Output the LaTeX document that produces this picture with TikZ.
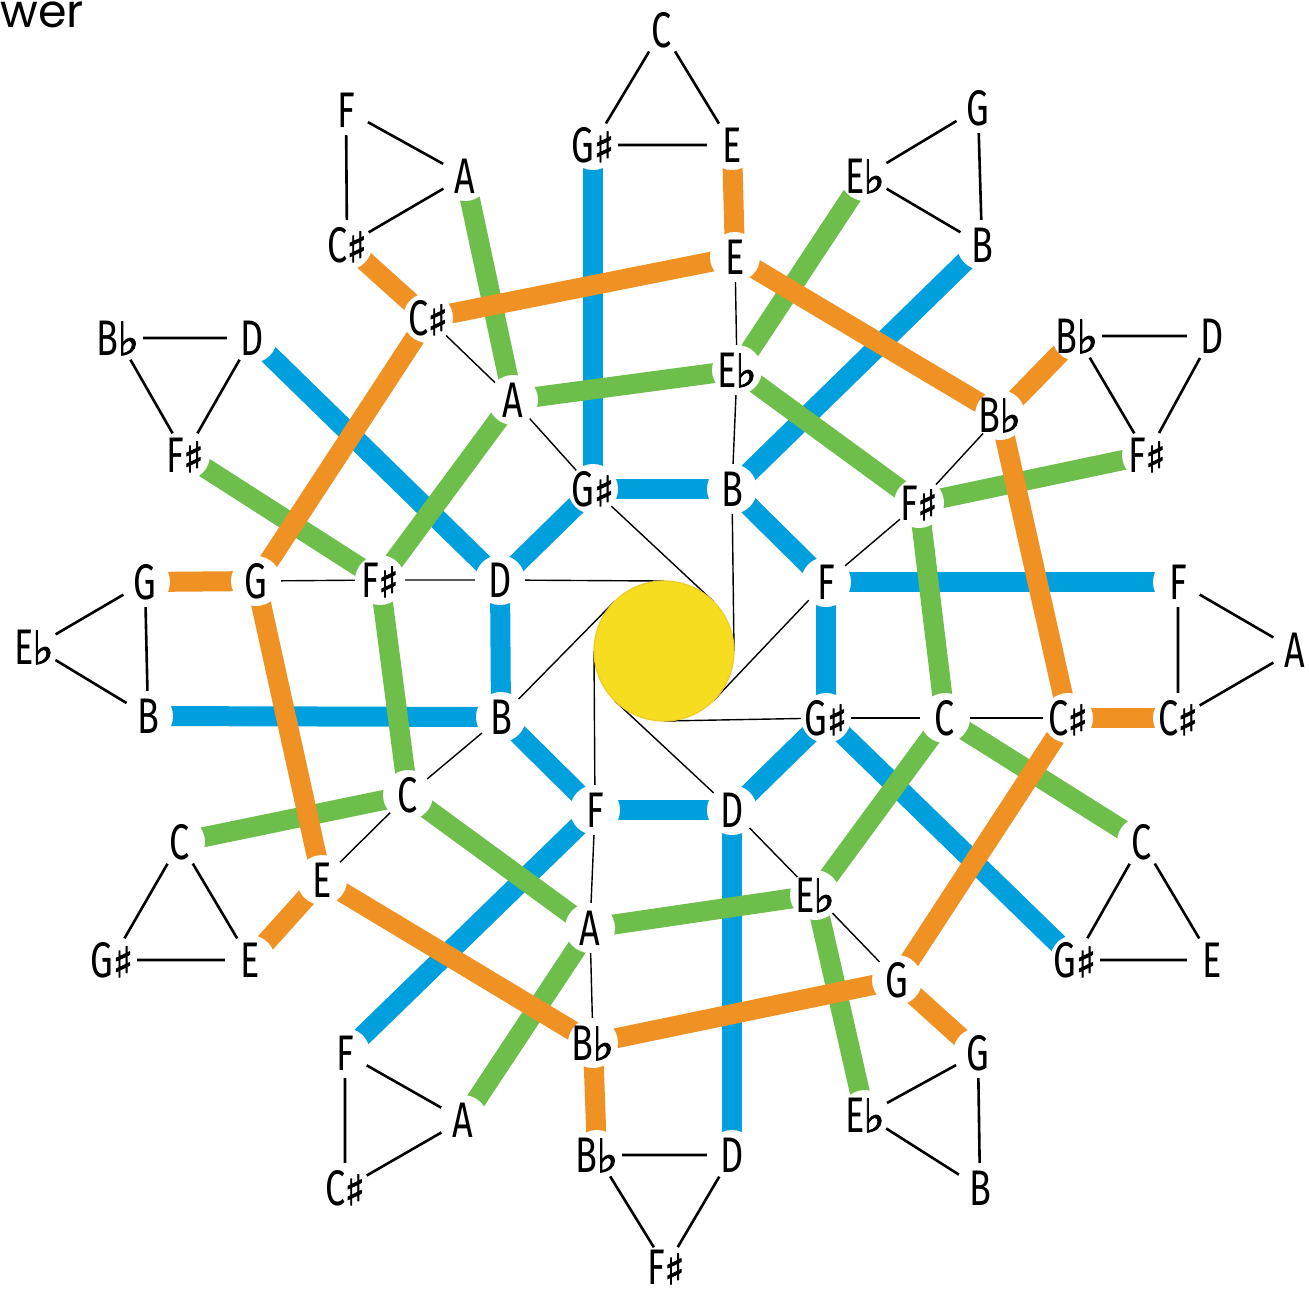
\documentclass[tikz,border=0pt]{standalone}
\usepackage{fontspec}
\setmainfont[FakeStretch=0.72]{Fira Sans}
\newfontfamily\symf[FakeBold=2]{DejaVu Sans}
\newfontfamily\titlef{Poppins}
\definecolor{cblue}{HTML}{00A0DF}
\definecolor{cgreen}{HTML}{6DBE4B}
\definecolor{corange}{HTML}{F09123}
\definecolor{cyel}{HTML}{F6DD1F}
\definecolor{cyeld}{HTML}{EECB26}
\newcommand{\labfont}{\fontsize{25}{25}\selectfont}
\newcommand{\shp}{\kern-0.4pt\smash{\symf\fontsize{21}{21}\selectfont ♯}}
\newcommand{\flt}{\kern-0.6pt\smash{\symf\fontsize{23}{23}\selectfont ♭}}
\pgfdeclarelayer{thinl}
\pgfdeclarelayer{thickl}
\pgfsetlayers{thinl,thickl,main}
\tikzset{
  lab/.style={circle, fill=white, minimum size=25pt, inner sep=-4pt, font=\labfont, text=black},
  bl/.style={line width=10pt, draw=cblue},
  gr/.style={line width=10pt, draw=cgreen},
  og/.style={line width=10pt, draw=corange},
  thinln/.style={line width=0.7pt, draw=black},
  triln/.style={line width=1.3pt, draw=black},
}
\begin{document}
\begin{tikzpicture}[x=0.5pt,y=-0.5pt]
\useasboundingbox (0,0) rectangle (1309,1292);
\node[anchor=base west, inner sep=0, font=\titlef\fontsize{23}{23}\selectfont] (title) at (0,27) {wer};
% sun
\node[circle, fill=cyel, draw=cyeld, line width=0.6pt, minimum size=70pt, inner sep=0] (sun) at (664,651) {};
\coordinate (tT) at (664,581);
\coordinate (tUR) at (713.5,601.5);
\coordinate (tR) at (734,651);
\coordinate (tLR) at (713.5,700.5);
\coordinate (tB) at (664,721);
\coordinate (tLL) at (614.5,700.5);
\coordinate (tL) at (594,651);
\coordinate (tUL) at (614.5,601.5);
% inner ring
\node[lab] (iGs) at (593,489) {G\shp};
\node[lab] (iB) at (732,489) {B};
\node[lab] (iF) at (826,582) {F};
\node[lab] (iGsb) at (826,718) {G\shp};
\node[lab] (iD) at (732,810) {D};
\node[lab] (iFb) at (595,810) {F};
\node[lab] (iBb) at (501,717) {B};
\node[lab] (iDb) at (500,580) {D};
% middle ring
\node[lab] (mA) at (513,400) {A};
\node[lab] (mEb) at (737,370) {E\flt};
\node[lab] (mFs) at (919,503) {F\shp};
\node[lab] (mC) at (945,718) {C};
\node[lab] (mEbb) at (815,895) {E\flt};
\node[lab] (mAb) at (590,928) {A};
\node[lab] (mCb) at (408,795) {C};
\node[lab] (mFsb) at (380,580) {F\shp};
% third ring
\node[lab] (oCs) at (428,318) {C\shp};
\node[lab] (oE) at (735,257) {E};
\node[lab] (oBb) at (1000,415) {B\flt};
\node[lab] (oCsb) at (1068,718) {C\shp};
\node[lab] (oG) at (897,980) {G};
\node[lab] (oBbb) at (593,1043) {B\flt};
\node[lab] (oEb) at (322,880) {E};
\node[lab] (oGb) at (256,581) {G};
% outer triangles
\node[lab] (t1a) at (662,30) {C};
\node[lab] (t1b) at (593,145) {G\shp};
\node[lab] (t1c) at (732,145) {E};
\node[lab] (t2a) at (978,108) {G};
\node[lab] (t2b) at (865,176) {E\flt};
\node[lab] (t2c) at (982,245) {B};
\node[lab] (t3a) at (1077,336) {B\flt};
\node[lab] (t3b) at (1212,336) {D};
\node[lab] (t3c) at (1147,455) {F\shp};
\node[lab] (t4a) at (1178,582) {F};
\node[lab] (t4b) at (1295,650) {A};
\node[lab] (t4c) at (1178,718) {C\shp};
\node[lab] (t5a) at (1142,842) {C};
\node[lab] (t5b) at (1075,960) {G\shp};
\node[lab] (t5c) at (1212,960) {E};
\node[lab] (t6a) at (978,1053) {G};
\node[lab] (t6b) at (865,1115) {E\flt};
\node[lab] (t6c) at (980,1188) {B};
\node[lab] (t7a) at (597,1155) {B\flt};
\node[lab] (t7b) at (732,1155) {D};
\node[lab, minimum size=23pt] (t7c) at (666,1267) {F\shp};
\node[lab] (t8a) at (345,1053) {F};
\node[lab] (t8b) at (463,1120) {A};
\node[lab] (t8c) at (345,1188) {C\shp};
\node[lab] (t9a) at (180,842) {C};
\node[lab] (t9b) at (112,960) {G\shp};
\node[lab] (t9c) at (250,960) {E};
\node[lab] (t10a) at (145,582) {G};
\node[lab] (t10b) at (34,647) {E\flt};
\node[lab] (t10c) at (148,716) {B};
\node[lab] (t11a) at (118,338) {B\flt};
\node[lab] (t11b) at (252,338) {D};
\node[lab] (t11c) at (185,455) {F\shp};
\node[lab] (t12a) at (346,110) {F};
\node[lab] (t12b) at (465,176) {A};
\node[lab] (t12c) at (347,245) {C\shp};
\begin{pgfonlayer}{thinl}
  \foreach \k in {1,...,12}{
    \draw[triln] (t\k a.center) -- (t\k b.center) -- (t\k c.center) -- cycle;
  }
  \draw[thinln] (oCs.center) -- (mA.center) -- (iGs.center);
  \draw[thinln] (oE.center) -- (mEb.center) -- (iB.center);
  \draw[thinln] (oBb.center) -- (mFs.center) -- (iF.center);
  \draw[thinln] (oCsb.center) -- (mC.center) -- (iGsb.center);
  \draw[thinln] (oG.center) -- (mEbb.center) -- (iD.center);
  \draw[thinln] (oBbb.center) -- (mAb.center) -- (iFb.center);
  \draw[thinln] (oEb.center) -- (mCb.center) -- (iBb.center);
  \draw[thinln] (oGb.center) -- (mFsb.center) -- (iDb.center);
  \draw[thinln] (iDb.center) -- (tT);
  \draw[thinln] (iGs.center) -- (tUR);
  \draw[thinln] (iB.center) -- (tR);
  \draw[thinln] (iF.center) -- (tLR);
  \draw[thinln] (iGsb.center) -- (tB);
  \draw[thinln] (iD.center) -- (tLL);
  \draw[thinln] (iFb.center) -- (tL);
  \draw[thinln] (iBb.center) -- (tUL);
\end{pgfonlayer}
\begin{pgfonlayer}{thickl}
  % blue
  \draw[bl] (t1b.center) -- (iGs.center);
  \draw[bl] (iGs.center) -- (iB.center);
  \draw[bl] (t2c.center) -- (iB.center);
  \draw[bl] (iB.center) -- (iF.center);
  \draw[bl] (iF.center) -- (t4a.center);
  \draw[bl] (iF.center) -- (iGsb.center);
  \draw[bl] (iGsb.center) -- (t5b.center);
  \draw[bl] (iGsb.center) -- (iD.center);
  \draw[bl] (iD.center) -- (t7b.center);
  \draw[bl] (iD.center) -- (iFb.center);
  \draw[bl] (iFb.center) -- (t8a.center);
  \draw[bl] (iFb.center) -- (iBb.center);
  \draw[bl] (iBb.center) -- (t10c.center);
  \draw[bl] (iBb.center) -- (iDb.center);
  \draw[bl] (iDb.center) -- (t11b.center);
  \draw[bl] (iDb.center) -- (iGs.center);
  % green
  \draw[gr] (t12b.center) -- (mA.center);
  \draw[gr] (mA.center) -- (mEb.center);
  \draw[gr] (t2b.center) -- (mEb.center);
  \draw[gr] (mEb.center) -- (mFs.center);
  \draw[gr] (t3c.center) -- (mFs.center);
  \draw[gr] (mFs.center) -- (mC.center);
  \draw[gr] (t5a.center) -- (mC.center);
  \draw[gr] (mC.center) -- (mEbb.center);
  \draw[gr] (t6b.center) -- (mEbb.center);
  \draw[gr] (mEbb.center) -- (mAb.center);
  \draw[gr] (t8b.center) -- (mAb.center);
  \draw[gr] (mAb.center) -- (mCb.center);
  \draw[gr] (t9a.center) -- (mCb.center);
  \draw[gr] (mCb.center) -- (mFsb.center);
  \draw[gr] (t11c.center) -- (mFsb.center);
  \draw[gr] (mFsb.center) -- (mA.center);
  % orange
  \draw[og] (t1c.center) -- (oE.center);
  \draw[og] (oE.center) -- (oCs.center);
  \draw[og] (t12c.center) -- (oCs.center);
  \draw[og] (oCs.center) -- (oGb.center);
  \draw[og] (t10a.center) -- (oGb.center);
  \draw[og] (oGb.center) -- (oEb.center);
  \draw[og] (t9c.center) -- (oEb.center);
  \draw[og] (oEb.center) -- (oBbb.center);
  \draw[og] (t7a.center) -- (oBbb.center);
  \draw[og] (oBbb.center) -- (oG.center);
  \draw[og] (t6a.center) -- (oG.center);
  \draw[og] (oG.center) -- (oCsb.center);
  \draw[og] (t4c.center) -- (oCsb.center);
  \draw[og] (oCsb.center) -- (oBb.center);
  \draw[og] (t3a.center) -- (oBb.center);
  \draw[og] (oBb.center) -- (oE.center);
\end{pgfonlayer}
\end{tikzpicture}
\end{document}
